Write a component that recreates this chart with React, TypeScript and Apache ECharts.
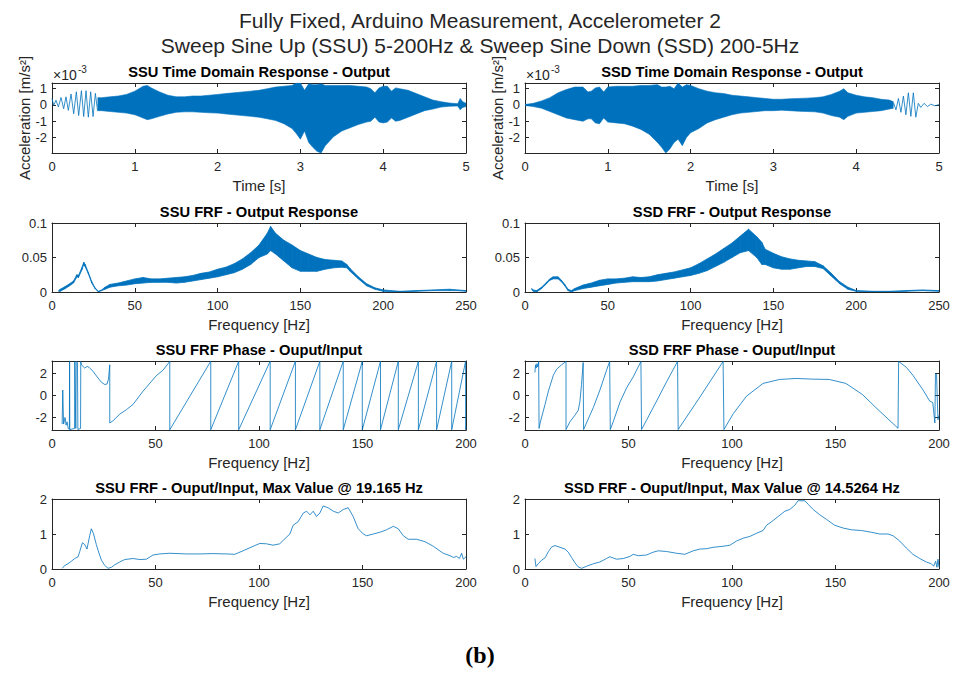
import React, { useEffect, useRef } from "react";
import * as echarts from "echarts";

const BLUE = "#0072BD";
const AX = "#262626";
const FONT = "'Liberation Sans', Arial, Helvetica, sans-serif";

// ---------- Row 1: time domain (x 1e-3 m/s^2) ----------
const ssuHeadT = [0, 0.02, 0.048, 0.077, 0.109, 0.141, 0.169, 0.197, 0.23, 0.262, 0.294, 0.322, 0.355, 0.383, 0.411, 0.439, 0.467, 0.496, 0.524, 0.55];
const ssuHeadV = [0.4, -0.02, 0.29, -0.12, 0.46, -0.23, 0.5, -0.33, 0.67, -0.54, 0.81, -0.65, 0.875, -0.71, 0.875, -0.75, 0.81, -0.71, 0.71, -0.35];
const ssuEnvT = [0.55, 0.6, 0.7, 0.8, 0.9, 1.0, 1.05, 1.1, 1.15, 1.2, 1.3, 1.4, 1.5, 1.6, 1.7, 1.8, 1.9, 2.0, 2.1, 2.2, 2.3, 2.4, 2.5, 2.6, 2.7, 2.8, 2.9, 2.95, 3.0, 3.05, 3.1, 3.15, 3.2, 3.25, 3.3, 3.4, 3.5, 3.6, 3.7, 3.8, 3.85, 3.9, 3.95, 4.0, 4.05, 4.1, 4.15, 4.2, 4.3, 4.4, 4.5, 4.6, 4.7, 4.8, 4.9, 4.93, 4.96, 5.0];
const ssuEnvHi = [0.45, 0.45, 0.5, 0.55, 0.65, 0.85, 1.0, 1.15, 1.2, 1.05, 0.8, 0.6, 0.5, 0.5, 0.55, 0.55, 0.6, 0.65, 0.7, 0.75, 0.8, 0.85, 0.9, 1.0, 1.1, 1.15, 1.2, 1.35, 1.35, 0.9, 1.3, 1.25, 1.25, 1.3, 1.2, 1.2, 1.2, 1.2, 1.15, 1.1, 1.0, 0.75, 1.05, 1.15, 1.15, 0.85, 1.05, 1.0, 0.9, 0.7, 0.5, 0.3, 0.2, 0.12, 0.08, 0.4, 0.2, 0.1];
const ssuEnvLo = [-0.35, -0.35, -0.4, -0.45, -0.5, -0.6, -0.7, -0.8, -0.9, -0.85, -0.7, -0.55, -0.45, -0.42, -0.42, -0.45, -0.48, -0.5, -0.55, -0.6, -0.65, -0.7, -0.75, -0.85, -0.95, -1.15, -1.45, -1.75, -2.1, -1.6, -2.3, -2.6, -2.85, -2.95, -2.5, -1.95, -1.6, -1.4, -1.2, -1.05, -1.0, -0.75, -1.05, -1.1, -1.05, -0.8, -1.0, -0.95, -0.75, -0.55, -0.35, -0.25, -0.13, -0.08, -0.06, -0.3, -0.15, -0.1];

const ssdEnvT = [0, 0.1, 0.2, 0.3, 0.4, 0.5, 0.6, 0.7, 0.76, 0.8, 0.85, 0.9, 0.95, 1.0, 1.1, 1.2, 1.3, 1.4, 1.5, 1.6, 1.65, 1.7, 1.75, 1.8, 1.85, 1.9, 1.95, 2.0, 2.1, 2.2, 2.3, 2.4, 2.5, 2.6, 2.7, 2.8, 2.9, 3.0, 3.1, 3.2, 3.3, 3.4, 3.5, 3.6, 3.7, 3.8, 3.85, 3.9, 4.0, 4.1, 4.2, 4.3, 4.4, 4.45];
const ssdEnvHi = [0.03, 0.1, 0.25, 0.45, 0.75, 0.95, 1.1, 1.1, 0.8, 0.85, 1.05, 1.1, 0.8, 1.1, 1.15, 1.15, 1.15, 1.2, 1.2, 1.25, 1.1, 1.1, 1.15, 1.0, 1.35, 1.1, 1.25, 1.2, 1.0, 0.85, 0.75, 0.7, 0.6, 0.55, 0.5, 0.45, 0.4, 0.35, 0.35, 0.38, 0.4, 0.42, 0.45, 0.5, 0.65, 0.85, 1.0, 0.75, 0.6, 0.5, 0.45, 0.35, 0.3, 0.2];
const ssdEnvLo = [-0.03, -0.1, -0.2, -0.4, -0.6, -0.8, -0.9, -1.0, -0.85, -0.85, -1.1, -1.15, -0.8, -1.05, -1.1, -1.15, -1.3, -1.5, -1.8, -2.3, -2.6, -2.95, -2.7, -2.3, -2.1, -2.5, -2.0, -1.7, -1.45, -1.1, -0.9, -0.75, -0.6, -0.5, -0.45, -0.4, -0.35, -0.35, -0.32, -0.35, -0.38, -0.4, -0.42, -0.5, -0.65, -0.75, -0.9, -0.7, -0.5, -0.45, -0.4, -0.35, -0.25, -0.2];
const ssdTailT = [4.45, 4.48, 4.51, 4.54, 4.57, 4.6, 4.63, 4.66, 4.69, 4.72, 4.75, 4.78, 4.82, 4.86, 4.9, 4.95, 5.0];
const ssdTailV = [0.15, -0.3, 0.4, -0.45, 0.55, -0.6, 0.75, -0.7, 0.75, -0.75, 0.1, -0.15, 0.1, -0.1, 0.05, -0.05, 0.02];

// ---------- Row 2: FRF output response ----------
const ssuRespF = [4, 5, 8, 10, 13, 15, 16, 18, 19.2, 20, 22, 24, 26, 28, 30, 32, 35, 40, 45, 50, 55, 60, 65, 70, 75, 80, 85, 90, 95, 100, 105, 110, 115, 120, 125, 130, 132, 135, 140, 145, 150, 155, 160, 165, 170, 175, 178, 180, 185, 190, 195, 200, 210, 220, 230, 240, 245, 250];
const ssuRespHi = [0.002, 0.004, 0.008, 0.011, 0.016, 0.025, 0.024, 0.035, 0.043, 0.04, 0.028, 0.015, 0.006, 0.001, 0.003, 0.007, 0.011, 0.013, 0.016, 0.019, 0.021, 0.019, 0.019, 0.02, 0.021, 0.022, 0.024, 0.027, 0.029, 0.033, 0.036, 0.041, 0.048, 0.057, 0.068, 0.085, 0.095, 0.085, 0.075, 0.068, 0.06, 0.055, 0.05, 0.047, 0.046, 0.045, 0.04, 0.034, 0.022, 0.012, 0.006, 0.003, 0.001, 0.002, 0.003, 0.004, 0.003, 0.002];
const ssuRespLo = [0.001, 0.001, 0.005, 0.008, 0.013, 0.022, 0.021, 0.032, 0.04, 0.037, 0.026, 0.013, 0.005, 0.0, 0.002, 0.004, 0.007, 0.009, 0.01, 0.012, 0.013, 0.014, 0.014, 0.014, 0.013, 0.014, 0.016, 0.018, 0.02, 0.022, 0.025, 0.028, 0.033, 0.04, 0.05, 0.055, 0.06, 0.055, 0.045, 0.035, 0.03, 0.03, 0.03, 0.033, 0.035, 0.036, 0.035, 0.03, 0.019, 0.009, 0.004, 0.001, 0.0, 0.001, 0.002, 0.002, 0.002, 0.001];
const ssdRespF = [4, 5, 7, 10, 13, 15, 17, 20, 22, 24, 26, 28, 30, 35, 40, 45, 50, 55, 60, 65, 70, 75, 80, 85, 90, 95, 100, 105, 110, 115, 120, 125, 130, 135, 140, 143, 145, 150, 155, 160, 165, 170, 175, 180, 185, 190, 195, 200, 210, 220, 230, 240, 250];
const ssdRespHi = [0.005, 0.003, 0.002, 0.007, 0.014, 0.019, 0.022, 0.022, 0.017, 0.011, 0.004, 0.002, 0.005, 0.01, 0.013, 0.017, 0.019, 0.019, 0.02, 0.022, 0.021, 0.022, 0.025, 0.027, 0.029, 0.032, 0.035, 0.041, 0.048, 0.055, 0.063, 0.071, 0.081, 0.091, 0.08, 0.072, 0.062, 0.056, 0.051, 0.048, 0.046, 0.045, 0.044, 0.038, 0.027, 0.015, 0.007, 0.002, 0.001, 0.001, 0.002, 0.003, 0.002];
const ssdRespLo = [0.004, 0.001, 0.0, 0.005, 0.012, 0.017, 0.019, 0.019, 0.015, 0.009, 0.002, 0.0, 0.002, 0.005, 0.007, 0.009, 0.011, 0.013, 0.014, 0.015, 0.015, 0.015, 0.016, 0.018, 0.02, 0.022, 0.024, 0.027, 0.031, 0.037, 0.043, 0.05, 0.057, 0.06, 0.05, 0.04, 0.04, 0.035, 0.033, 0.033, 0.035, 0.037, 0.037, 0.034, 0.023, 0.012, 0.004, 0.001, 0.0, 0.0, 0.001, 0.002, 0.001];

// ---------- Row 3: FRF phase (rad) ----------
const ssuPhaseHeadF = [4.9, 5.2, 5.6, 6.3, 6.8, 7.3, 7.8, 8.4, 8.5, 8.6, 10.9, 11.0, 11.5, 11.7, 12.3, 12.5, 13.8, 13.9, 14.2, 15.8, 17.0, 18.0, 19.8, 22.2, 23.9, 25.5, 26.6, 27.3, 27.9, 27.9, 29.5, 32.7, 35.9, 39.2, 44.0, 50.4, 53.6, 56.9];
const ssuPhaseHeadV = [-2.6, 0.5, -2.6, -2.0, -2.7, -2.4, -3.0, -3.1, 3.12, -3.1, -3.0, 3.1, -3.0, 3.1, 3.0, -3.1, -3.0, 3.1, 2.8, 2.5, 2.65, 2.55, 2.2, 1.6, 1.2, 1.0, 1.05, 1.5, 2.8, -2.5, -2.3, -1.7, -1.3, -0.8, 0.4, 1.8, 2.3, 3.1];
const ssuPhaseWraps = [56.9, 76.7, 90.2, 105.4, 117.6, 129.4, 140.7, 149.9, 158.7, 167.3, 177.0, 185.8, 193.1, 199.8];
const ssuPhaseTailF = [199.8, 200];
const ssuPhaseTailV = [-3.1, -2.9];
const ssdPhaseF = [4.8, 5.1, 5.4, 5.8, 6.2, 6.6, 6.8, 7.3, 9.7, 11.3, 13.7, 15.3, 17.7, 19.8, 19.8, 21.7, 24.1, 25.7, 26.5, 27.3, 28.1, 28.3, 33.0, 36.2, 39.4, 40.9, 41.2, 42.6, 45.9, 49.1, 52.3, 56.0, 56.3, 58.7, 63.6, 68.4, 73.7, 74.0, 85.0, 95.7, 96.1, 100.6, 107, 115, 123, 131, 139, 147, 155, 163, 171, 180.2, 180.5, 184.2, 187.4, 192.3, 195.5, 197, 198, 198.3, 198.8, 199.5, 200];
const ssdPhaseV = [2.1, 2.8, 2.5, 2.9, 2.6, 3.1, -3.0, -2.5, -0.8, 0.4, 1.85, 2.4, 2.8, 3.1, -3.1, -2.4, -1.8, -1.37, -0.6, 1.0, 3.0, -3.1, -1.1, 0.5, 2.3, 3.1, -3.1, -2.4, -0.6, 0.7, 1.7, 3.1, -3.1, -2.25, -0.5, 1.25, 3.1, -3.1, 0.0, 3.1, -3.1, -1.66, -0.06, 1.1, 1.46, 1.55, 1.49, 1.46, 1.1, 0.09, -1.37, -2.98, 3.1, 2.57, 1.84, 0.5, -0.5, -0.64, -2.5, 2.0, 1.9, -2.2, -1.8];

// ---------- Row 4: FRF magnitude ----------
const ssuMagF = [5, 6.1, 7.7, 9.3, 11, 12.6, 13.4, 14.7, 15.8, 16.9, 18.2, 19.0, 20.1, 21.4, 22.7, 23.9, 25.5, 27.1, 28.7, 30.3, 32.7, 35.1, 39.2, 42.4, 45.6, 48.8, 52, 56.9, 65, 71.4, 77.8, 84.3, 88.3, 92.3, 97.2, 100.4, 103.6, 106.8, 110, 111.7, 114.9, 116.5, 118.9, 121.4, 123, 124.6, 126.2, 127.8, 129.4, 131, 133.4, 135.9, 138.3, 140.7, 143.1, 145.5, 147.9, 150.4, 152, 155.2, 158.4, 161.6, 164.9, 167.3, 169.7, 172.1, 176.1, 180.2, 184.2, 189, 192.3, 193.9, 195.5, 196.8, 197.9, 198.7, 200];
const ssuMagV = [0.02, 0.1, 0.15, 0.22, 0.3, 0.35, 0.5, 0.75, 0.7, 0.57, 0.95, 1.15, 1.0, 0.7, 0.45, 0.25, 0.1, 0.02, 0.05, 0.12, 0.2, 0.27, 0.3, 0.27, 0.28, 0.4, 0.43, 0.45, 0.43, 0.43, 0.44, 0.43, 0.42, 0.52, 0.65, 0.73, 0.72, 0.68, 0.72, 0.82, 1.0, 1.25, 1.35, 1.6, 1.65, 1.55, 1.65, 1.5, 1.6, 1.8, 1.75, 1.65, 1.6, 1.7, 1.75, 1.5, 1.15, 1.0, 0.95, 1.0, 1.05, 1.12, 1.22, 1.15, 0.95, 0.85, 0.85, 0.78, 0.65, 0.45, 0.38, 0.33, 0.36, 0.3, 0.45, 0.28, 0.35];
const ssdMagF = [4.8, 5.3, 6.4, 8, 9.7, 11.3, 12.9, 14.5, 16.9, 19.3, 20.9, 22.5, 24.1, 25.7, 27.4, 29.8, 33, 36.2, 39.4, 41, 44.2, 47.5, 50.7, 52.3, 54.7, 58.7, 61.9, 64.4, 68.4, 73.2, 77.2, 81.3, 84.5, 87.7, 90.9, 95.7, 99, 102.2, 105.4, 108.6, 111.8, 115, 116.7, 119.1, 122.3, 125.5, 127.9, 130.3, 131.9, 135.2, 136.8, 139.2, 142.4, 145.6, 149.6, 153.7, 157.7, 162.5, 167.3, 171.4, 175.4, 177.8, 181, 184.2, 187.4, 190.7, 193.9, 196.3, 197.4, 198.4, 199, 199.5, 200];
const ssdMagV = [0.3, 0.07, 0.15, 0.25, 0.32, 0.5, 0.63, 0.67, 0.62, 0.57, 0.48, 0.33, 0.18, 0.06, 0.02, 0.08, 0.15, 0.2, 0.3, 0.35, 0.28, 0.3, 0.36, 0.42, 0.38, 0.4, 0.48, 0.52, 0.5, 0.45, 0.42, 0.52, 0.57, 0.58, 0.62, 0.65, 0.68, 0.8, 0.88, 0.93, 1.02, 1.1, 1.25, 1.35, 1.5, 1.65, 1.7, 1.82, 1.95, 1.95, 1.85, 1.7, 1.55, 1.42, 1.25, 1.17, 1.12, 1.1, 1.05, 1.0, 1.0, 0.95, 0.8, 0.6, 0.42, 0.3, 0.2, 0.15, 0.08, 0.22, 0.05, 0.28, 0.05];

// ---------- Texts ----------
const mainTitle = ["Fully Fixed, Arduino Measurement, Accelerometer 2", "Sweep Sine Up (SSU) 5-200Hz & Sweep Sine Down (SSD) 200-5Hz"];
const panelTitles = [
  "SSU Time Domain Response - Output", "SSD Time Domain Response - Output",
  "SSU FRF - Output Response", "SSD FRF - Output Response",
  "SSU FRF Phase - Ouput/Input", "SSD FRF Phase - Ouput/Input",
  "SSU FRF - Ouput/Input, Max Value @ 19.165 Hz", "SSD FRF - Ouput/Input, Max Value @ 14.5264 Hz",
];
const xNames = ["Time [s]", "Frequency [Hz]", "Frequency [Hz]", "Frequency [Hz]"];
const yName = "Acceleration [m/s²]";
const caption = "(b)";

// ---------- layout ----------
const GRID_TOPS = [83, 223, 361, 499];
const GRID_HEIGHTS = [70, 69, 69, 70];
const GRID_LEFTS = [52, 525];
const GRID_W = 414;

const xSpecs = [
  { min: 0, max: 5, interval: 1 },
  { min: 0, max: 250, interval: 50 },
  { min: 0, max: 200, interval: 50 },
  { min: 0, max: 200, interval: 50 },
];
const ySpecs: any[] = [
  { min: -2.95, max: 1.35, splitNumber: 4, hideEnds: true },
  { min: 0, max: 0.1, interval: 0.05 },
  { min: -Math.PI, max: Math.PI, splitNumber: 3, hideEnds: true },
  { min: 0, max: 2, interval: 1 },
];

const zip = (a: number[], b: number[]) => a.map((v, i) => [v, b[i]]);

function buildOption() {
  const grid: any[] = [];
  const xAxis: any[] = [];
  const yAxis: any[] = [];
  const series: any[] = [];
  const graphic: any[] = [];

  for (let row = 0; row < 4; row++) {
    for (let col = 0; col < 2; col++) {
      const g = row * 2 + col;
      grid.push({ left: GRID_LEFTS[col], top: GRID_TOPS[row], width: GRID_W, height: GRID_HEIGHTS[row], containLabel: false });
      const xs = xSpecs[row];
      const ys = ySpecs[row];
      for (const top of [false, true]) {
        xAxis.push({
          type: "value", gridIndex: g, position: top ? "top" : "bottom",
          min: xs.min, max: xs.max, interval: xs.interval,
          axisLine: { show: true, onZero: false, lineStyle: { color: AX, width: 1 } },
          axisTick: { show: true, inside: true, length: 4, lineStyle: { color: AX, width: 1 } },
          axisLabel: { show: !top, color: AX, fontSize: 13, fontFamily: FONT, margin: 7 },
          splitLine: { show: false },
          name: top ? "" : xNames[row], nameLocation: "middle", nameGap: 25,
          nameTextStyle: { color: AX, fontSize: 15, fontFamily: FONT },
        });
        yAxis.push({
          type: "value", gridIndex: g, position: top ? "right" : "left",
          min: ys.min, max: ys.max, interval: ys.interval, splitNumber: ys.splitNumber,
          axisLine: { show: true, onZero: false, lineStyle: { color: AX, width: 1 } },
          axisTick: { show: true, inside: true, length: 4, lineStyle: { color: AX, width: 1 } },
          axisLabel: {
            show: !top, color: AX, fontSize: 13, fontFamily: FONT, margin: 5,
            showMinLabel: ys.hideEnds ? false : undefined, showMaxLabel: ys.hideEnds ? false : undefined,
          },
          splitLine: { show: false },
          name: !top && row === 0 ? yName : "", nameLocation: "middle", nameGap: 19, nameRotate: 90,
          nameTextStyle: { color: AX, fontSize: 15, fontFamily: FONT },
        });
      }
      graphic.push({
        type: "text", x: GRID_LEFTS[col] + GRID_W / 2, y: GRID_TOPS[row] - 11, silent: true,
        style: { text: panelTitles[g], fontSize: 14.7, fontWeight: "bold", fontFamily: FONT, fill: "#000", align: "center", verticalAlign: "middle", textAlign: "center", textVerticalAlign: "middle" },
      });
    }
  }

  const ax = (g: number) => ({ xAxisIndex: g * 2, yAxisIndex: g * 2 });
  const lineS = (g: number, data: number[][], width = 0.8, extra: any = {}) => ({
    type: "line", ...ax(g), data, symbol: "none", showSymbol: false, silent: true, clip: true,
    lineStyle: { color: BLUE, width }, itemStyle: { color: BLUE }, ...extra,
  });

  // Row 1 : dense oscillation drawn as envelope band
  series.push(lineS(0, zip(ssuEnvT, ssuEnvHi), 0.6, { areaStyle: { color: BLUE, opacity: 1 } }));
  series.push(lineS(0, zip(ssuEnvT, ssuEnvLo), 0.6, { areaStyle: { color: BLUE, opacity: 1 } }));
  series.push(lineS(0, zip(ssuEnvT, ssuEnvT.map(() => 0)), 1.5));
  series.push(lineS(0, zip(ssuHeadT, ssuHeadV), 0.8));
  series.push(lineS(1, zip(ssdEnvT, ssdEnvHi), 0.6, { areaStyle: { color: BLUE, opacity: 1 } }));
  series.push(lineS(1, zip(ssdEnvT, ssdEnvLo), 0.6, { areaStyle: { color: BLUE, opacity: 1 } }));
  series.push(lineS(1, zip(ssdEnvT, ssdEnvT.map(() => 0)), 1.5));
  series.push(lineS(1, zip(ssdTailT, ssdTailV), 0.8));

  // Row 2 : noisy response as band between lo and hi (custom polygons)
  const band = (g: number, F: number[], lo: number[], hi: number[]) => {
    const data = F.slice(0, -1).map((f, i) => [f, lo[i], hi[i], F[i + 1], lo[i + 1], hi[i + 1]]);
    series.push({
      type: "custom", ...ax(g), data, silent: true, clip: true,
      encode: { x: [0, 3], y: [1, 2, 4, 5] },
      renderItem: (_params: any, api: any) => {
        const a = api.coord([api.value(0), api.value(1)]);
        const b = api.coord([api.value(0), api.value(2)]);
        const c = api.coord([api.value(3), api.value(5)]);
        const d = api.coord([api.value(3), api.value(4)]);
        return { type: "polygon", shape: { points: [a, b, c, d] }, style: { fill: BLUE, stroke: BLUE, lineWidth: 0.8 } };
      },
    });
  };
  band(2, ssuRespF, ssuRespLo, ssuRespHi);
  band(3, ssdRespF, ssdRespLo, ssdRespHi);

  // Row 3 : phase
  const ssuPhase: number[][] = zip(ssuPhaseHeadF, ssuPhaseHeadV);
  for (let i = 0; i < ssuPhaseWraps.length - 1; i++) {
    ssuPhase.push([ssuPhaseWraps[i], -3.12]);
    ssuPhase.push([ssuPhaseWraps[i + 1], 3.12]);
  }
  zip(ssuPhaseTailF, ssuPhaseTailV).forEach((p) => ssuPhase.push(p));
  series.push(lineS(4, ssuPhase, 0.8));
  series.push(lineS(5, zip(ssdPhaseF, ssdPhaseV), 0.8));

  // Row 4 : magnitude
  series.push(lineS(6, zip(ssuMagF, ssuMagV), 0.8));
  series.push(lineS(7, zip(ssdMagF, ssdMagV), 0.8));

  // titles and annotations
  mainTitle.forEach((t, i) => {
    graphic.push({
      type: "text", x: 480, y: 20 + i * 25, silent: true,
      style: { text: t, fontSize: 21, fontFamily: FONT, fill: "#262626", align: "center", verticalAlign: "middle", textAlign: "center", textVerticalAlign: "middle" },
    });
  });
  GRID_LEFTS.forEach((l) => {
    graphic.push({
      type: "text", x: l + 1, y: 75, silent: true,
      style: { text: "×10", fontSize: 14, fontFamily: FONT, fill: AX, align: "left", verticalAlign: "middle", textAlign: "left", textVerticalAlign: "middle" },
    });
    graphic.push({
      type: "text", x: l + 26, y: 69, silent: true,
      style: { text: "-3", fontSize: 10, fontFamily: FONT, fill: AX, align: "left", verticalAlign: "middle", textAlign: "left", textVerticalAlign: "middle" },
    });
  });
  graphic.push({
    type: "text", x: 480, y: 655, silent: true,
    style: { text: caption, fontSize: 24, fontWeight: "bold", fontFamily: "'Liberation Serif', 'DejaVu Serif', serif", fill: "#000", align: "center", verticalAlign: "middle", textAlign: "center", textVerticalAlign: "middle" },
  });

  return { animation: false, backgroundColor: "#fff", grid, xAxis, yAxis, series, graphic };
}

export default function App() {
  const ref = useRef<HTMLDivElement>(null);
  useEffect(() => {
    const chart = echarts.init(ref.current as HTMLDivElement, undefined, { renderer: "svg" });
    chart.setOption(buildOption() as any);
    return () => chart.dispose();
  }, []);
  return <div ref={ref} style={{ position: "absolute", left: 0, top: 0, width: 960, height: 682, background: "#fff" }} />;
}
